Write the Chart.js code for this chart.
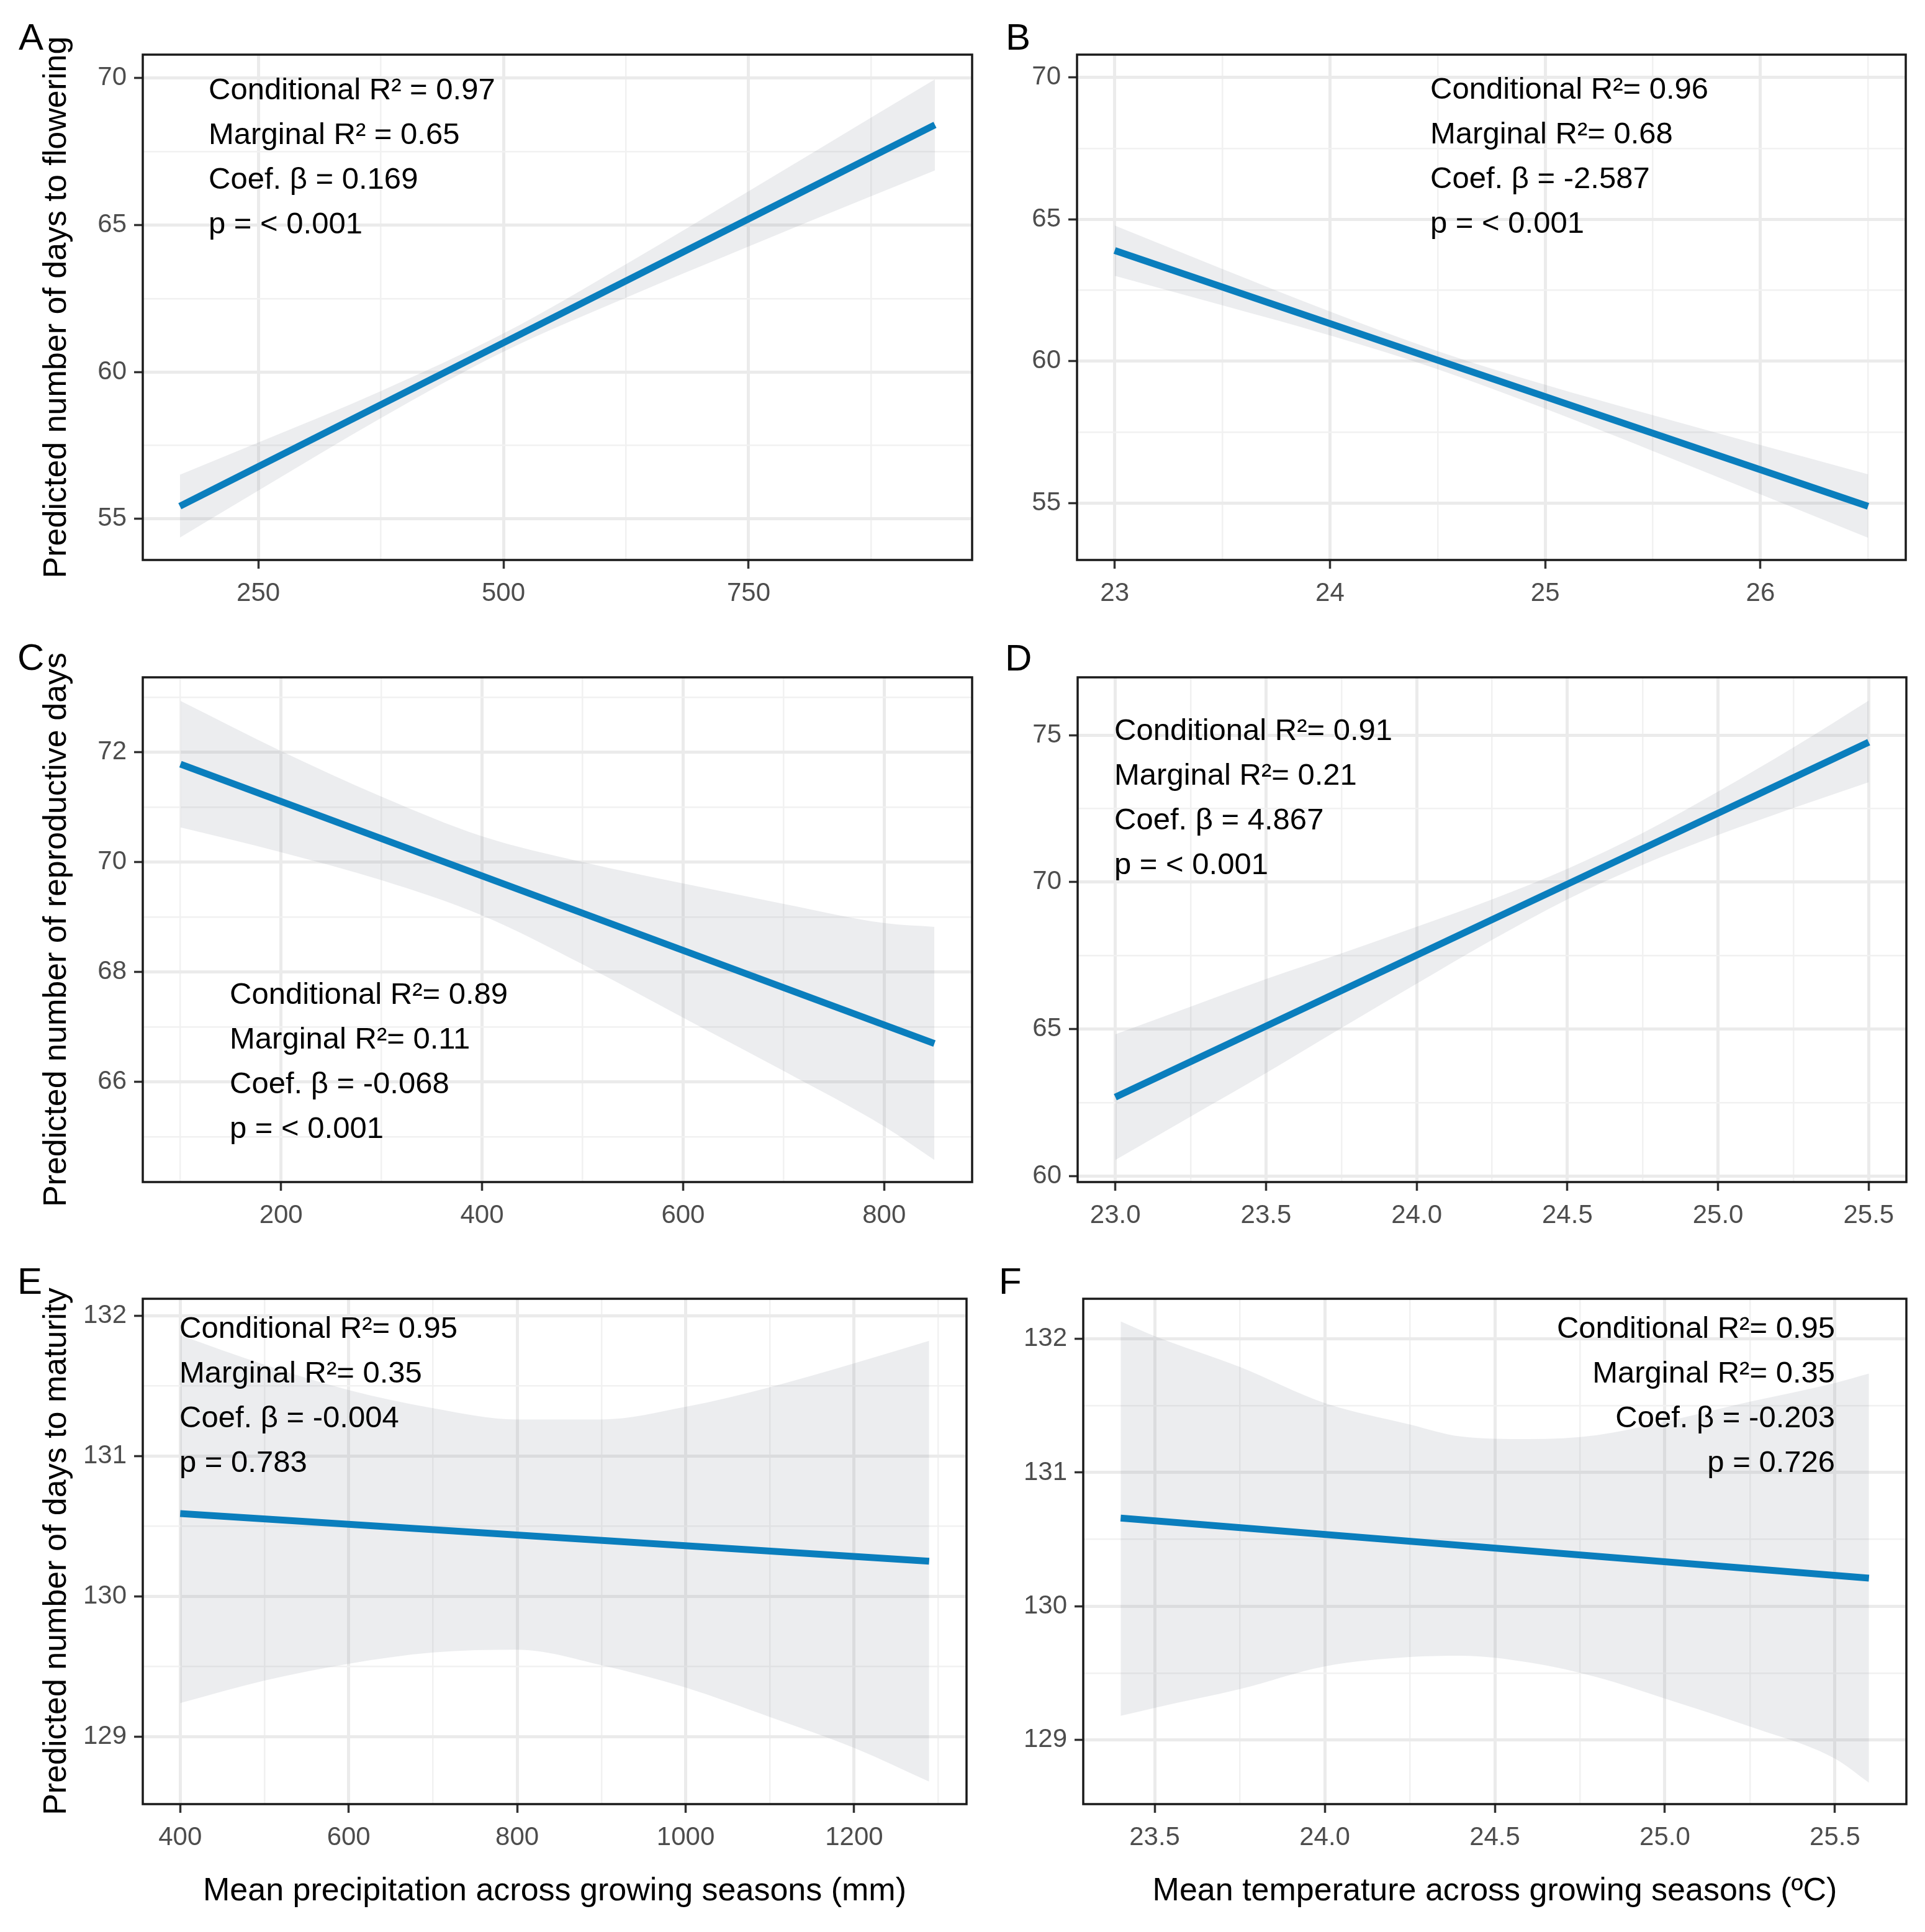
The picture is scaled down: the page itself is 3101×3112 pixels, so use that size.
<!DOCTYPE html>
<html>
<head>
<meta charset="utf-8">
<script src="https://cdn.jsdelivr.net/npm/chart.js@4.4.1/dist/chart.umd.min.js"></script>
<style>
  html, body { margin: 0; padding: 0; background: #fff; }
  #fig { position: relative; width: 3101px; height: 3112px; background: #fff; }
  #fig canvas { position: absolute; }
</style>
</head>
<body>
<div id="fig"></div>
<script>
// PANEL A - precipitation vs days to flowering
const aFitX = [170, 940];
const aFit = [55.43, 68.41];
const aX = [170, 250, 375, 500, 625, 750, 875, 940];
const aLow = [54.36, 55.96, 58.43, 60.69, 62.53, 64.27, 65.98, 66.86];
const aHigh = [56.50, 57.60, 59.35, 61.31, 63.67, 66.15, 68.66, 69.96];
const aXTicks = [250, 500, 750];
const aXMinor = [375, 625, 875];
const aYTicks = [55, 60, 65, 70];
const aYMinor = [57.5, 62.5, 67.5];
const aNote = ["Conditional R\u00b2 = 0.97", "Marginal R\u00b2 = 0.65", "Coef. \u03b2 = 0.169", "p = < 0.001"];

// PANEL B - temperature vs days to flowering
const bFitX = [23, 26.5];
const bFit = [63.9, 54.89];
const bX = [23, 23.5, 24, 24.5, 25, 25.5, 26, 26.5];
const bLow = [63.01, 61.97, 60.91, 59.72, 58.33, 56.84, 55.31, 53.78];
const bHigh = [64.78, 63.25, 61.75, 60.36, 59.17, 58.10, 57.05, 56.02];
const bXTicks = [23, 24, 25, 26];
const bXMinor = [23.5, 24.5, 25.5, 26.5];
const bYTicks = [55, 60, 65, 70];
const bYMinor = [57.5, 62.5, 67.5];
const bNote = ["Conditional R\u00b2= 0.96", "Marginal R\u00b2= 0.68", "Coef. \u03b2 = -2.587", "p = < 0.001"];

// PANEL C - precipitation vs reproductive days
const cFitX = [100, 850];
const cFit = [71.78, 66.70];
const cX = [100, 200, 300, 400, 500, 600, 700, 800, 850];
const cLow = [70.63, 70.18, 69.67, 69.03, 68.14, 67.17, 66.20, 65.19, 64.58];
const cHigh = [72.93, 72.02, 71.19, 70.47, 70.00, 69.61, 69.24, 68.89, 68.82];
const cXTicks = [200, 400, 600, 800];
const cXMinor = [100, 300, 500, 700];
const cYTicks = [66, 68, 70, 72];
const cYMinor = [65, 67, 69, 71, 73];
const cNote = ["Conditional R\u00b2= 0.89", "Marginal R\u00b2= 0.11", "Coef. \u03b2 = -0.068", "p = < 0.001"];

// PANEL D - temperature vs reproductive days
const dFitX = [23.0, 25.5];
const dFit = [62.68, 74.76];
const dX = [23.0, 23.25, 23.5, 23.75, 24.0, 24.25, 24.5, 24.75, 25.0, 25.25, 25.5];
const dLow = [60.54, 62.02, 63.50, 65.03, 66.54, 68.03, 69.41, 70.59, 71.60, 72.52, 73.40];
const dHigh = [64.82, 65.76, 66.70, 67.57, 68.48, 69.41, 70.45, 71.67, 73.08, 74.58, 76.18];
const dXTicks = [23.0, 23.5, 24.0, 24.5, 25.0, 25.5];
const dXMinor = [23.25, 23.75, 24.25, 24.75, 25.25];
const dYTicks = [60, 65, 70, 75];
const dYMinor = [62.5, 67.5, 72.5];
const dNote = ["Conditional R\u00b2= 0.91", "Marginal R\u00b2= 0.21", "Coef. \u03b2 = 4.867", "p = < 0.001"];

// PANEL E - precipitation vs days to maturity
const eFitX = [400, 1289];
const eFit = [130.59, 130.25];
const eX = [400, 500, 600, 700, 800, 900, 1000, 1100, 1200, 1289];
const eLow = [129.24, 129.40, 129.52, 129.60, 129.62, 129.51, 129.35, 129.14, 128.92, 128.68];
const eHigh = [131.86, 131.65, 131.47, 131.34, 131.26, 131.26, 131.35, 131.49, 131.66, 131.82];
const eXTicks = [400, 600, 800, 1000, 1200];
const eXMinor = [500, 700, 900, 1100, 1300];
const eYTicks = [129, 130, 131, 132];
const eYMinor = [129.5, 130.5, 131.5];
const eNote = ["Conditional R\u00b2= 0.95", "Marginal R\u00b2= 0.35", "Coef. \u03b2 = -0.004", "p = 0.783"];

// PANEL F - temperature vs days to maturity
const fFitX = [23.4, 25.6];
const fFit = [130.66, 130.21];
const fX = [23.4, 23.5, 23.75, 24.0, 24.25, 24.4, 24.6, 24.8, 25.0, 25.25, 25.5, 25.6];
const fLow = [129.18, 129.24, 129.38, 129.55, 129.62, 129.63, 129.58, 129.47, 129.31, 129.10, 128.86, 128.68];
const fHigh = [132.13, 132.02, 131.79, 131.52, 131.36, 131.27, 131.25, 131.28, 131.38, 131.53, 131.67, 131.74];
const fXTicks = [23.5, 24.0, 24.5, 25.0, 25.5];
const fXMinor = [23.75, 24.25, 24.75, 25.25];
const fYTicks = [129, 130, 131, 132];
const fYMinor = [129.5, 130.5, 131.5];
const fNote = ["Conditional R\u00b2= 0.95", "Marginal R\u00b2= 0.35", "Coef. \u03b2 = -0.203", "p = 0.726"];

// TEXTOS DE EJES
const precipTitle = "Mean precipitation across growing seasons (mm)";
const tempTitle = "Mean temperature across growing seasons (\u00baC)";
const floweringTitle = "Predicted number of days to flowering";
const reproTitle = "Predicted number of reproductive days";
const maturityTitle = "Predicted number of days to maturity";

const lineBlue = "#0A7EBD";
const ribbonFill = "rgba(150,155,165,0.18)";
const fontFam = "'Liberation Sans', Arial, Helvetica, sans-serif";
Chart.defaults.font.family = fontFam;

const int = v => String(v);
const one = v => v.toFixed(1);

// layout of every panel, in page pixels
const panels = [
  { tag: "A", cell: [0, 0, 1600, 1010], plot: [230, 88, 1566, 902], tagPos: [30, 80],
    fx: aFitX, fit: aFit, x: aX, low: aLow, high: aHigh, xr: [132.2, 977.9], yr: [53.6, 70.8],
    xt: aXTicks, xm: aXMinor, yt: aYTicks, ym: aYMinor, xf: int,
    note: aNote, notePos: [336, 160], noteAlign: "left", yTitle: floweringTitle, xTitle: null },
  { tag: "B", cell: [1600, 0, 3101, 1010], plot: [1735, 88, 3070, 902], tagPos: [1620, 80],
    fx: bFitX, fit: bFit, x: bX, low: bLow, high: bHigh, xr: [22.825, 26.675], yr: [53.0, 70.8],
    xt: bXTicks, xm: bXMinor, yt: bYTicks, ym: bYMinor, xf: int,
    note: bNote, notePos: [2304, 159], noteAlign: "left", yTitle: null, xTitle: null },
  { tag: "C", cell: [0, 1010, 1600, 2010], plot: [230, 1091, 1566, 1904], tagPos: [28, 1079],
    fx: cFitX, fit: cFit, x: cX, low: cLow, high: cHigh, xr: [62.5, 887.5], yr: [64.18, 73.36],
    xt: cXTicks, xm: cXMinor, yt: cYTicks, ym: cYMinor, xf: int,
    note: cNote, notePos: [370, 1617], noteAlign: "left", yTitle: reproTitle, xTitle: null },
  { tag: "D", cell: [1600, 1010, 3101, 2010], plot: [1736, 1091, 3071, 1904], tagPos: [1619, 1080],
    fx: dFitX, fit: dFit, x: dX, low: dLow, high: dHigh, xr: [22.875, 25.625], yr: [59.79, 76.97],
    xt: dXTicks, xm: dXMinor, yt: dYTicks, ym: dYMinor, xf: one,
    note: dNote, notePos: [1795, 1192], noteAlign: "left", yTitle: null, xTitle: null },
  { tag: "E", cell: [0, 2010, 1600, 3112], plot: [230, 2092, 1557, 2906], tagPos: [28, 2084],
    fx: eFitX, fit: eFit, x: eX, low: eLow, high: eHigh, xr: [355.6, 1333.4], yr: [128.52, 132.12],
    xt: eXTicks, xm: eXMinor, yt: eYTicks, ym: eYMinor, xf: int,
    note: eNote, notePos: [289, 2155], noteAlign: "left", yTitle: maturityTitle, xTitle: precipTitle },
  { tag: "F", cell: [1600, 2010, 3101, 3112], plot: [1745, 2092, 3071, 2906], tagPos: [1609, 2084],
    fx: fFitX, fit: fFit, x: fX, low: fLow, high: fHigh, xr: [23.29, 25.71], yr: [128.52, 132.30],
    xt: fXTicks, xm: fXMinor, yt: fYTicks, ym: fYMinor, xf: one,
    note: fNote, notePos: [2956, 2155], noteAlign: "right", yTitle: null, xTitle: tempTitle }
];

function axis(min, max, major, minor, fmt, isX, size, title) {
  const isMajor = v => major.includes(v);
  const opts = {
    type: "linear",
    min: min,
    max: max,
    afterBuildTicks: s => {
      s.ticks = major.concat(minor).sort((a, b) => a - b).map(v => ({ value: v }));
    },
    afterFit: s => {
      if (isX) s.height = size; else s.width = size;
    },
    ticks: {
      autoSkip: false,
      maxRotation: 0,
      color: "#4D4D4D",
      font: { size: 42 },
      padding: isX ? 15 : 12,
      callback: v => isMajor(v) ? fmt(v) : ""
    },
    grid: {
      color: c => isMajor(c.tick.value) ? "#EBEBEB" : "#F1F1F1",
      lineWidth: c => isMajor(c.tick.value) ? 5 : 2.5,
      tickColor: c => isMajor(c.tick.value) ? "#333333" : "rgba(0,0,0,0)",
      tickWidth: 3.5,
      tickLength: 14
    },
    border: { display: false }
  };
  if (title) {
    opts.title = { display: true, text: title, color: "#000", font: { size: 52 }, padding: { top: 0, bottom: 34 } };
  }
  return opts;
}

function drawPanel(p) {
  const [cl, ct, cr, cb] = p.cell;
  const [pl, pt, pr, pb] = p.plot;
  const cv = document.createElement("canvas");
  cv.width = cr - cl;
  cv.height = cb - ct;
  cv.style.left = cl + "px";
  cv.style.top = ct + "px";
  document.getElementById("fig").appendChild(cv);

  const pts = (xs, ys) => xs.map((x, i) => ({ x: x, y: ys[i] }));

  const decor = {
    id: "decor" + p.tag,
    afterDraw(chart) {
      const ctx = chart.ctx;
      const a = chart.chartArea;
      ctx.save();
      // panel border
      ctx.strokeStyle = "#1A1A1A";
      ctx.lineWidth = 3.5;
      ctx.strokeRect(a.left, a.top, a.right - a.left, a.bottom - a.top);
      // stats text
      ctx.fillStyle = "#000";
      ctx.font = "49px " + fontFam;
      ctx.textAlign = p.noteAlign;
      ctx.textBaseline = "alphabetic";
      p.note.forEach((t, i) => ctx.fillText(t, p.notePos[0] - cl, p.notePos[1] - ct + i * 72));
      // panel letter
      ctx.textAlign = "left";
      ctx.font = "60px " + fontFam;
      ctx.fillText(p.tag, p.tagPos[0] - cl, p.tagPos[1] - ct);
      // y title (drawn here so it is not squeezed to the plot height)
      if (p.yTitle) {
        ctx.translate(92 - cl, (a.top + a.bottom) / 2);
        ctx.rotate(-Math.PI / 2);
        ctx.textAlign = "center";
        ctx.textBaseline = "middle";
        ctx.font = "52px " + fontFam;
        ctx.fillText(p.yTitle, 0, 0);
      }
      ctx.restore();
    }
  };

  new Chart(cv, {
    type: "line",
    data: {
      datasets: [
        { data: pts(p.fx, p.fit), borderColor: lineBlue, borderWidth: 11, pointRadius: 0, fill: false },
        { data: pts(p.x, p.low), borderColor: "rgba(0,0,0,0)", borderWidth: 0, pointRadius: 0,
          fill: false, cubicInterpolationMode: "monotone" },
        { data: pts(p.x, p.high), borderColor: "rgba(0,0,0,0)", borderWidth: 0, pointRadius: 0,
          fill: "-1", backgroundColor: ribbonFill, cubicInterpolationMode: "monotone" }
      ]
    },
    options: {
      responsive: false,
      animation: false,
      devicePixelRatio: 1,
      layout: { padding: { left: 0, top: pt - ct, right: cr - pr, bottom: 0 } },
      plugins: { legend: { display: false }, tooltip: { enabled: false } },
      scales: {
        x: axis(p.xr[0], p.xr[1], p.xt, p.xm, p.xf, true, cb - pb, p.xTitle),
        y: axis(p.yr[0], p.yr[1], p.yt, p.ym, int, false, pl - cl, null)
      }
    },
    plugins: [decor]
  });
}

panels.forEach(drawPanel);
</script>
</body>
</html>
